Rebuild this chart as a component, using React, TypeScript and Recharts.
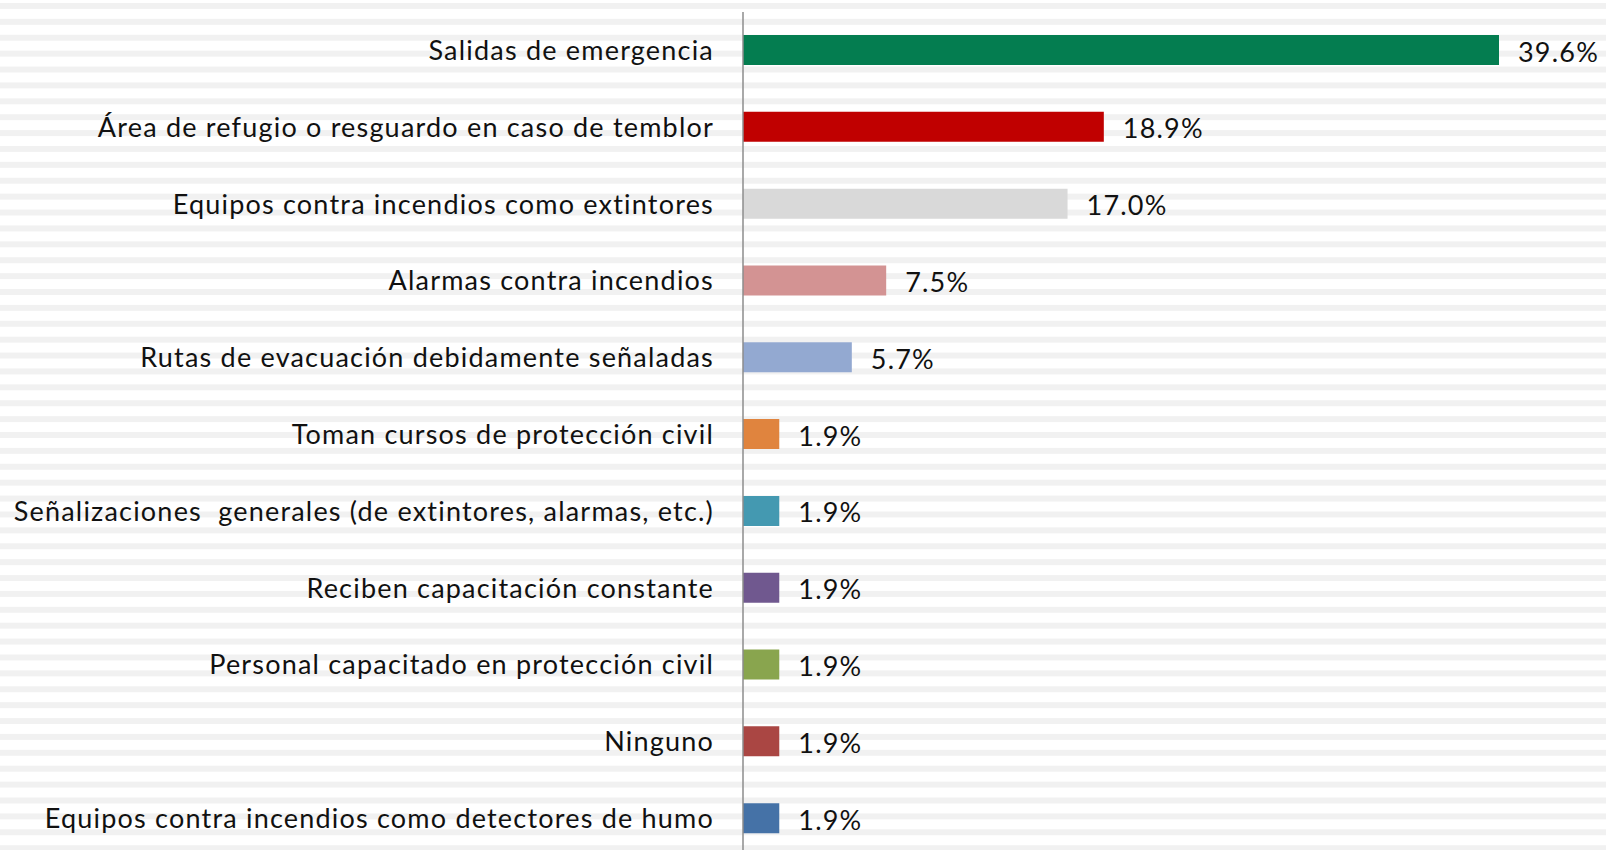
import React from 'react';
import { BarChart, Bar, XAxis, YAxis, LabelList, Cell } from 'recharts';

const categories = [
  'Salidas de emergencia',
  'Área de refugio o resguardo en caso de temblor',
  'Equipos contra incendios como extintores',
  'Alarmas contra incendios',
  'Rutas de evacuación debidamente señaladas',
  'Toman cursos de protección civil',
  'Señalizaciones  generales (de extintores, alarmas, etc.)',
  'Reciben capacitación constante',
  'Personal capacitado en protección civil',
  'Ninguno',
  'Equipos contra incendios como detectores de humo',
];

const percentages = [39.6, 18.9, 17.0, 7.5, 5.7, 1.9, 1.9, 1.9, 1.9, 1.9, 1.9];

const barColors = [
  '#047d50',
  '#c00000',
  '#d9d9d9',
  '#d39393',
  '#93a9d1',
  '#e0843e',
  '#4499b1',
  '#70588f',
  '#89a54e',
  '#aa4643',
  '#4572a7',
];

const data = categories.map((name, i) => ({ name, value: percentages[i] }));

const FONT = 'Lato, "Open Sans", sans-serif';

function CategoryTick(props: any) {
  const { x, y, payload } = props;
  return (
    <text
      x={x}
      y={y - 1}
      textAnchor="end"
      dominantBaseline="central"
      fill="#111"
      fontSize={27}
      fontFamily={FONT}
      letterSpacing={1.2}
      xmlSpace="preserve"
      style={{ whiteSpace: 'pre' }}
    >
      {payload.value}
    </text>
  );
}

function ValueLabel(props: any) {
  const { x, y, width, height, value } = props;
  return (
    <text
      x={x + width + 19}
      y={y + height / 2 + 1}
      textAnchor="start"
      dominantBaseline="central"
      fill="#111"
      fontSize={27}
      fontFamily={FONT}
      letterSpacing={1.2}
    >
      {`${Number(value).toFixed(1)}%`}
    </text>
  );
}

export default function App() {
  return (
    <div
      style={{
        position: 'absolute',
        left: 0,
        top: 0,
        width: 1606,
        height: 850,
        overflow: 'hidden',
        backgroundColor: '#ffffff',
        backgroundImage:
          'linear-gradient(to bottom, #ffffff 0px, #ffffff 3px, #f1f1f1 3px, #f1f1f1 9px, #ffffff 9px)',
        backgroundSize: '100% 15.9px',
      }}
    >
      <BarChart
        width={1606}
        height={860}
        data={data}
        layout="vertical"
        margin={{ top: 12, right: 23, bottom: 3, left: 0 }}
      >
        <XAxis type="number" domain={[0, 44]} hide />
        <YAxis
          type="category"
          dataKey="name"
          width={743}
          tickLine={false}
          tickSize={0}
          tickMargin={29}
          axisLine={{ stroke: '#8c8c8c', strokeWidth: 1.5 }}
          tick={<CategoryTick />}
          interval={0}
        />
        <Bar dataKey="value" barSize={30} isAnimationActive={false}>
          {data.map((entry, index) => (
            <Cell key={`cell-${index}`} fill={barColors[index]} />
          ))}
          <LabelList dataKey="value" content={<ValueLabel />} />
        </Bar>
      </BarChart>
    </div>
  );
}
